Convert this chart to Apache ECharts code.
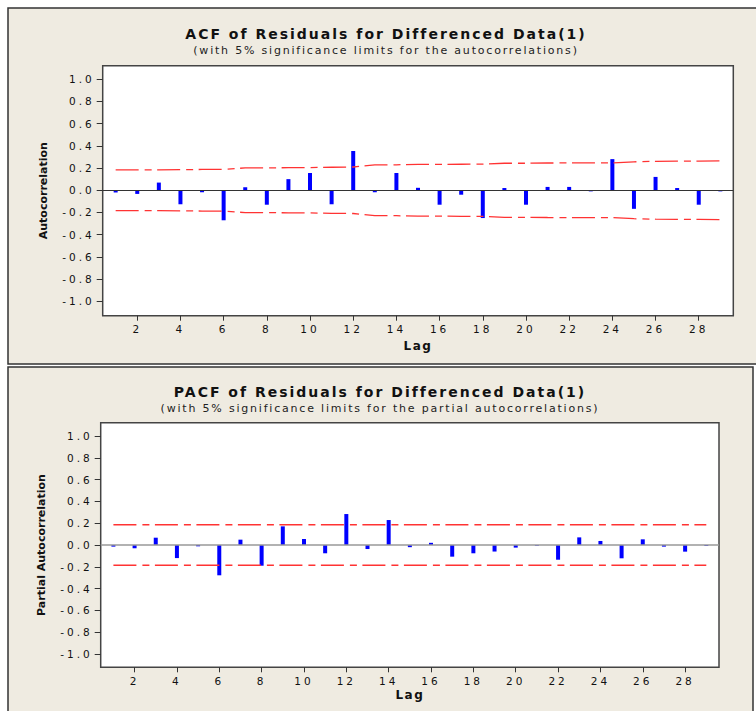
<!DOCTYPE html>
<html>
<head>
<meta charset="utf-8">
<script src="https://cdn.jsdelivr.net/npm/echarts@6/dist/echarts.min.js"></script>
<style>
html, body { margin: 0; padding: 0; background: #ffffff; }
#chart { width: 756px; height: 711px; }
#chart text[style*="14px"] { letter-spacing: 2px; }
#chart text[style*="11px"]:not([style*="bold"]) { letter-spacing: 1.8px; }
#chart text[style*="10.5px"] { letter-spacing: 3px; }
#chart text[style*="12px"] { letter-spacing: 1.5px; }
</style>
</head>
<body>
<div id="chart"></div>
<script>
// ---- data ----
const lags = [1,2,3,4,5,6,7,8,9,10,11,12,13,14,15,16,17,18,19,20,21,22,23,24,25,26,27,28,29];
const acfValues = [-0.02, -0.033, 0.069, -0.126, -0.018, -0.27, 0.027, -0.13, 0.10, 0.155, -0.126, 0.353, -0.018, 0.155, 0.022,
                   -0.13, -0.04, -0.25, 0.02, -0.13, 0.03, 0.03, -0.01, 0.28, -0.167, 0.12, 0.02, -0.13, -0.01];
const acfLimits = [0.184, 0.184, 0.184, 0.185, 0.187, 0.188, 0.201, 0.201, 0.203, 0.204, 0.207, 0.209, 0.229, 0.229, 0.232,
                   0.232, 0.234, 0.235, 0.243, 0.243, 0.245, 0.246, 0.246, 0.246, 0.256, 0.260, 0.262, 0.262, 0.264];
const pacfValues = [-0.015, -0.03, 0.067, -0.12, -0.012, -0.278, 0.049, -0.19, 0.171, 0.055, -0.076, 0.284, -0.037, 0.229, -0.02,
                    0.02, -0.107, -0.076, -0.06, -0.024, -0.006, -0.135, 0.07, 0.037, -0.122, 0.052, -0.015, -0.061, -0.008];
const pacfLimit = 0.186;
const xTicks = [2,4,6,8,10,12,14,16,18,20,22,24,26,28];
const yTicks = [-1.0,-0.8,-0.6,-0.4,-0.2,0.0,0.2,0.4,0.6,0.8,1.0];

const titles = ['ACF of Residuals for Differenced Data(1)', 'PACF of Residuals for Differenced Data(1)'];
const subtitles = ['(with 5% significance limits for the autocorrelations)', '(with 5% significance limits for the partial autocorrelations)'];
const yNames = ['Autocorrelation', 'Partial Autocorrelation'];

// ---- styles ----
const BEIGE = '#efebe1';
const FONT = 'DejaVu Sans';
const dashPattern = [23, 6, 7, 5.5];

function xAxisFor(idx, nameGap) {
  return {
    type: 'value', gridIndex: idx, min: 0.4, max: 29.6,
    name: 'Lag', nameLocation: 'middle', nameGap: nameGap,
    nameTextStyle: { fontFamily: FONT, fontWeight: 'bold', fontSize: 12, color: '#111' },
    axisLine: { show: false, onZero: false },
    splitLine: { show: false },
    axisTick: { show: true, inside: false, length: 5, customValues: xTicks, lineStyle: { color: '#333', width: 1 } },
    axisLabel: { customValues: xTicks, margin: 8, fontFamily: FONT, fontSize: 10.5, color: '#111' }
  };
}
function yAxisFor(idx, name, min, max) {
  return {
    type: 'value', gridIndex: idx, min: min, max: max,
    name: name, nameLocation: 'middle', nameRotate: 90, nameGap: 54,
    nameTextStyle: { fontFamily: FONT, fontWeight: 'bold', fontSize: 11, color: '#111' },
    axisLine: { show: false, onZero: false },
    splitLine: { show: false },
    axisTick: { show: true, inside: false, length: 6, customValues: yTicks, lineStyle: { color: '#333', width: 1 } },
    axisLabel: { customValues: yTicks, margin: 8, fontFamily: FONT, fontSize: 10.5, color: '#111',
                 formatter: v => v.toFixed(1) }
  };
}

const chart = echarts.init(document.getElementById('chart'), null, { renderer: 'svg', width: 756, height: 711 });

const option = {
  animation: false,
  backgroundColor: '#ffffff',
  graphic: [
    { type: 'rect', z: -100, shape: { x: 8, y: 8, width: 760, height: 356 },
      style: { fill: BEIGE, stroke: '#333', lineWidth: 1.5 } },
    { type: 'rect', z: -100, shape: { x: 8, y: 367, width: 745, height: 360 },
      style: { fill: BEIGE, stroke: '#333', lineWidth: 1.5 } }
  ],
  title: [
    { text: titles[0], subtext: subtitles[0], left: 386, top: 27, textAlign: 'center', itemGap: 4, padding: 0,
      textStyle: { fontFamily: FONT, fontWeight: 'bold', fontSize: 14, color: '#111' },
      subtextStyle: { fontFamily: FONT, fontSize: 11, color: '#222' } },
    { text: titles[1], subtext: subtitles[1], left: 380, top: 385, textAlign: 'center', itemGap: 4, padding: 0,
      textStyle: { fontFamily: FONT, fontWeight: 'bold', fontSize: 14, color: '#111' },
      subtextStyle: { fontFamily: FONT, fontSize: 11, color: '#222' } }
  ],
  grid: [
    { left: 102.7, top: 65.7, width: 630.6, height: 250, show: true, backgroundColor: '#ffffff',
      borderColor: '#444', borderWidth: 1.5, containLabel: false },
    { left: 100.7, top: 422.7, width: 618.3, height: 244.6, show: true, backgroundColor: '#ffffff',
      borderColor: '#444', borderWidth: 1.5, containLabel: false }
  ],
  xAxis: [ xAxisFor(0, 24), xAxisFor(1, 22) ],
  yAxis: [ yAxisFor(0, yNames[0], -1.128, 1.12), yAxisFor(1, yNames[1], -1.122, 1.122) ],
  series: [
    { type: 'bar', xAxisIndex: 0, yAxisIndex: 0, barWidth: 4, silent: true,
      itemStyle: { color: '#0000ff' },
      data: lags.map((l, i) => [l, acfValues[i]]),
      markLine: { silent: true, symbol: 'none', label: { show: false },
                  lineStyle: { color: '#333', width: 1, type: 'solid' }, data: [{ yAxis: 0 }] } },
    { type: 'line', xAxisIndex: 0, yAxisIndex: 0, symbol: 'none', silent: true,
      lineStyle: { color: '#ff3333', width: 1.3, type: dashPattern },
      data: lags.map((l, i) => [l, acfLimits[i]]) },
    { type: 'line', xAxisIndex: 0, yAxisIndex: 0, symbol: 'none', silent: true,
      lineStyle: { color: '#ff3333', width: 1.3, type: dashPattern },
      data: lags.map((l, i) => [l, -acfLimits[i]]) },
    { type: 'bar', xAxisIndex: 1, yAxisIndex: 1, barWidth: 4, silent: true,
      itemStyle: { color: '#0000ff' },
      data: lags.map((l, i) => [l, pacfValues[i]]),
      markLine: { silent: true, symbol: 'none', label: { show: false },
                  lineStyle: { color: '#999', width: 1.5, type: 'solid' }, data: [{ yAxis: 0 }] } },
    { type: 'line', xAxisIndex: 1, yAxisIndex: 1, symbol: 'none', silent: true,
      lineStyle: { color: '#ff3333', width: 1.3, type: dashPattern },
      data: lags.map(l => [l, pacfLimit]) },
    { type: 'line', xAxisIndex: 1, yAxisIndex: 1, symbol: 'none', silent: true,
      lineStyle: { color: '#ff3333', width: 1.3, type: dashPattern },
      data: lags.map(l => [l, -pacfLimit]) }
  ]
};
chart.setOption(option);
</script>
</body>
</html>
